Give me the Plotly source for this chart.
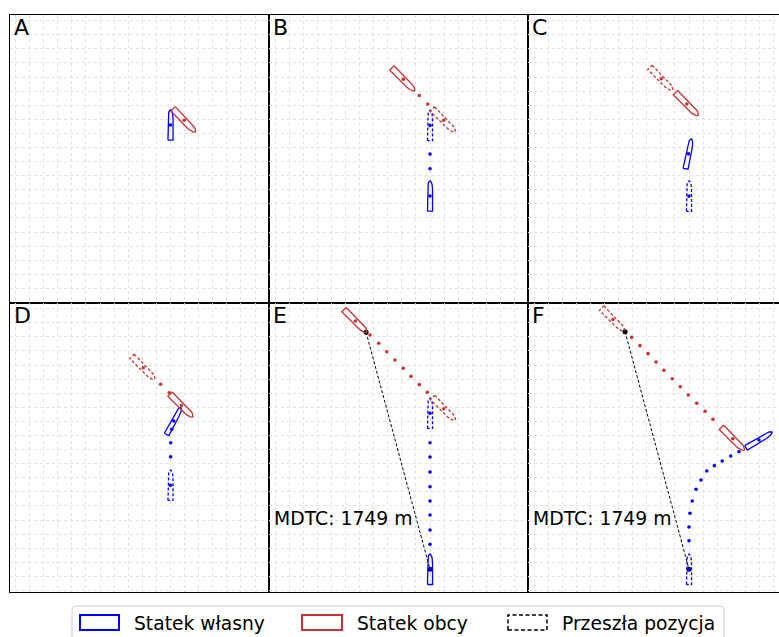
import numpy as np
import plotly.graph_objects as go

W, H = 779, 637
PANELS = ["A", "B", "C", "D", "E", "F"]

# ---- ship states (metres, heading in degrees) ----
OWN_X = [0, 0, -4, 23, 0, 497]
OWN_Y = [1110, 606, 905, 1053, 0, 918]
OWN_HDG = [0, 0, 11, 28, 0, 59]
OWN_PAST_X = [None, 0, 0, 0, 0, 0]
OWN_PAST_Y = [None, 1107, 605, 597, 1108, 0]
OWN_PAST_HDG = [None, 0, 0, 0, 0, 0]

RED_X = [97, -190, -16, 77, -530, 311]
RED_Y = [1143, 1434, 1259, 1163, 1763, 927]
RED_HDG = [136, 135, 135, 135, 135, 135]
RED_PAST_X = [None, 97, -197, -193, 98, -540]
RED_PAST_Y = [None, 1143, 1438, 1431, 1140, 1774]
RED_PAST_HDG = [None, 135, 135, 135, 135, 135]

# ---- track dots ----
OWN_DOTS_X = [[], [0, 0], [], [1, 1, 9],
              [0, 0, 0, 0, 0, 0, 0, 0],
              [355, 296, 236, 180, 126, 85, 50, 23, 7, 0, 0]]
OWN_DOTS_Y = [[], [903, 799], [], [799, 899, 994],
              [899, 797, 691, 586, 485, 386, 279, 178],
              [835, 804, 769, 736, 698, 634, 568, 485, 398, 300, 203]]
RED_DOTS_X = [[], [-76, -16], [], [-70, -9],
              [-426, -364, -307, -249, -190, -135, -76, -19],
              [-407, -348, -291, -234, -178, -119, -62, -5, 55, 114, 170]]
RED_DOTS_Y = [[], [1319, 1258], [], [1314, 1254],
              [1664, 1605, 1545, 1486, 1427, 1370, 1311, 1257],
              [1647, 1588, 1531, 1472, 1413, 1353, 1296, 1238, 1179, 1122, 1065]]

# ---- MDTC segments ----
MDTC_PANELS = ["E", "F"]
MDTC_RED_X = [-454, -454]
MDTC_RED_Y = [1683, 1687]
MDTC_OWN_X = [0, 0]
MDTC_OWN_Y = [0, 0]
MDTC_LABEL = "MDTC: 1749 m"

LEGEND_LABELS = ["Statek własny", "Statek obcy", "Przeszła pozycja"]

# ---- styles ----
BLUE = "#0000ff"
RED = "#c83232"
FONT = "DejaVu Sans"
OWN_L, OWN_B = 216, 36
RED_L, RED_B = 228, 44

# pixel geometry of the grid of panels
COL_L = [9.5, 269, 528]
COL_R = [269, 528, 779]
ROW_T = [15.3, 303.3]
ROW_B = [303.3, 592]
S = 7.1  # metres per pixel
X0_PX = 161  # own-start x offset from panel left
Y0_PX = 266  # own-start y offset from panel top


def px(x):
    return x / W


def py(y):
    return 1 - y / H


def ship(cx, cy, hdg, L, B):
    a = 0.3 * L
    us, vs = [-L / 2], [-B / 2]
    for th in np.linspace(0, np.pi / 2, 9):
        us.append(L / 2 - a + a * np.sin(th))
        vs.append(-B / 2 * np.cos(th))
    for th in np.linspace(np.pi / 2, 0, 9):
        us.append(L / 2 - a + a * np.sin(th))
        vs.append(B / 2 * np.cos(th))
    us += [-L / 2, -L / 2]
    vs += [B / 2, -B / 2]
    us, vs = np.array(us), np.array(vs)
    h = np.radians(hdg)
    x = cx + us * np.sin(h) + vs * np.cos(h)
    y = cy + us * np.cos(h) - vs * np.sin(h)
    return x, y


fig = go.Figure()
layout = dict(width=W, height=H, margin=dict(l=0, r=0, t=0, b=0),
              paper_bgcolor="white", plot_bgcolor="white", showlegend=False)

annotations = []
shapes = []

for i, name in enumerate(PANELS):
    r, c = divmod(i, 3)
    sfx = "" if i == 0 else str(i + 1)
    xa, ya = "x" + sfx, "y" + sfx
    wpx = COL_R[c] - COL_L[c]
    hpx = ROW_B[r] - ROW_T[r]
    xr = [-X0_PX * S, (wpx - X0_PX) * S]
    yr = [-(hpx - Y0_PX) * S, Y0_PX * S]
    axcommon = dict(showticklabels=False, ticks="", zeroline=False,
                    showgrid=True, gridcolor="#e2e2e2", gridwidth=0.8,
                    griddash="dot", showline=True, linecolor="black",
                    linewidth=1.4)
    layout["xaxis" + sfx] = dict(domain=[px(COL_L[c]), px(COL_R[c])],
                                 range=xr, anchor=ya, dtick=100, tick0=0,
                                 mirror=True, **axcommon)
    layout["yaxis" + sfx] = dict(domain=[py(ROW_B[r]), py(ROW_T[r])],
                                 range=yr, anchor=xa, dtick=100, tick0=50,
                                 mirror=(c < 2), **axcommon)

    # MDTC line
    if name in MDTC_PANELS:
        k = MDTC_PANELS.index(name)
        fig.add_trace(go.Scatter(
            x=[MDTC_RED_X[k], MDTC_OWN_X[k]], y=[MDTC_RED_Y[k], MDTC_OWN_Y[k]],
            mode="lines+markers", line=dict(color="black", width=1, dash="3px,2px"),
            marker=dict(color="black", size=5), xaxis=xa, yaxis=ya))
        annotations.append(dict(text=MDTC_LABEL, x=px(COL_L[c] + 2.5), y=py(518),
                                xref="paper", yref="paper", xanchor="left",
                                yanchor="middle", showarrow=False,
                                font=dict(family=FONT, size=18.8, color="black")))

    # dots
    if OWN_DOTS_X[i]:
        fig.add_trace(go.Scatter(x=OWN_DOTS_X[i], y=OWN_DOTS_Y[i], mode="markers",
                                 marker=dict(color=BLUE, size=3.6), xaxis=xa, yaxis=ya))
    if RED_DOTS_X[i]:
        fig.add_trace(go.Scatter(x=RED_DOTS_X[i], y=RED_DOTS_Y[i], mode="markers",
                                 marker=dict(color=RED, size=3.6), xaxis=xa, yaxis=ya))

    # ships
    items = [
        (OWN_PAST_X[i], OWN_PAST_Y[i], OWN_PAST_HDG[i], OWN_L, OWN_B, BLUE, "3px,2px"),
        (RED_PAST_X[i], RED_PAST_Y[i], RED_PAST_HDG[i], RED_L, RED_B, RED, "3px,2px"),
        (OWN_X[i], OWN_Y[i], OWN_HDG[i], OWN_L, OWN_B, BLUE, "solid"),
        (RED_X[i], RED_Y[i], RED_HDG[i], RED_L, RED_B, RED, "solid"),
    ]
    for cx, cy, hd, L, B, col, dash in items:
        if cx is None:
            continue
        sx, sy = ship(cx, cy, hd, L, B)
        fig.add_trace(go.Scatter(x=sx, y=sy, mode="lines",
                                 line=dict(color=col, width=1.3, dash=dash),
                                 xaxis=xa, yaxis=ya, hoverinfo="skip"))
        fig.add_trace(go.Scatter(x=[cx], y=[cy], mode="markers",
                                 marker=dict(color=col, size=3.6),
                                 xaxis=xa, yaxis=ya))

    # panel letter
    annotations.append(dict(text=name, x=px(COL_L[c] + 2), y=py(ROW_T[r] + 12),
                            xref="paper", yref="paper", xanchor="left",
                            yanchor="middle", showarrow=False,
                            font=dict(family=FONT, size=22, color="black")))

# ---- legend (drawn) ----
lx0, lx1, ly0, ly1, rad = 72, 724, 606, 645, 4
path = (f"M {px(lx0 + rad)} {py(ly0)} L {px(lx1 - rad)} {py(ly0)} "
        f"Q {px(lx1)} {py(ly0)} {px(lx1)} {py(ly0 + rad)} "
        f"L {px(lx1)} {py(ly1)} L {px(lx0)} {py(ly1)} "
        f"L {px(lx0)} {py(ly0 + rad)} Q {px(lx0)} {py(ly0)} {px(lx0 + rad)} {py(ly0)} Z")
shapes.append(dict(type="path", path=path, xref="paper", yref="paper",
                   line=dict(color="#cccccc", width=1), fillcolor="white"))
leg_rects = [(80, 119, BLUE, "solid", 2), (302, 342, RED, "solid", 2),
             (508, 547, "black", "4px,2.5px", 1.5)]
leg_text_x = [133, 356, 561]
for (x0, x1, col, dash, lw), tx, lab in zip(leg_rects, leg_text_x, LEGEND_LABELS):
    shapes.append(dict(type="rect", xref="paper", yref="paper",
                       x0=px(x0), x1=px(x1), y0=py(630), y1=py(615),
                       line=dict(color=col, width=lw, dash=dash)))
    annotations.append(dict(text=lab, x=px(tx - 1), y=py(623), xref="paper",
                            yref="paper", xanchor="left", yanchor="middle",
                            showarrow=False,
                            font=dict(family=FONT, size=18.7, color="black")))

layout["annotations"] = annotations
layout["shapes"] = shapes
fig.update_layout(**layout)
fig.write_html("out.html")
